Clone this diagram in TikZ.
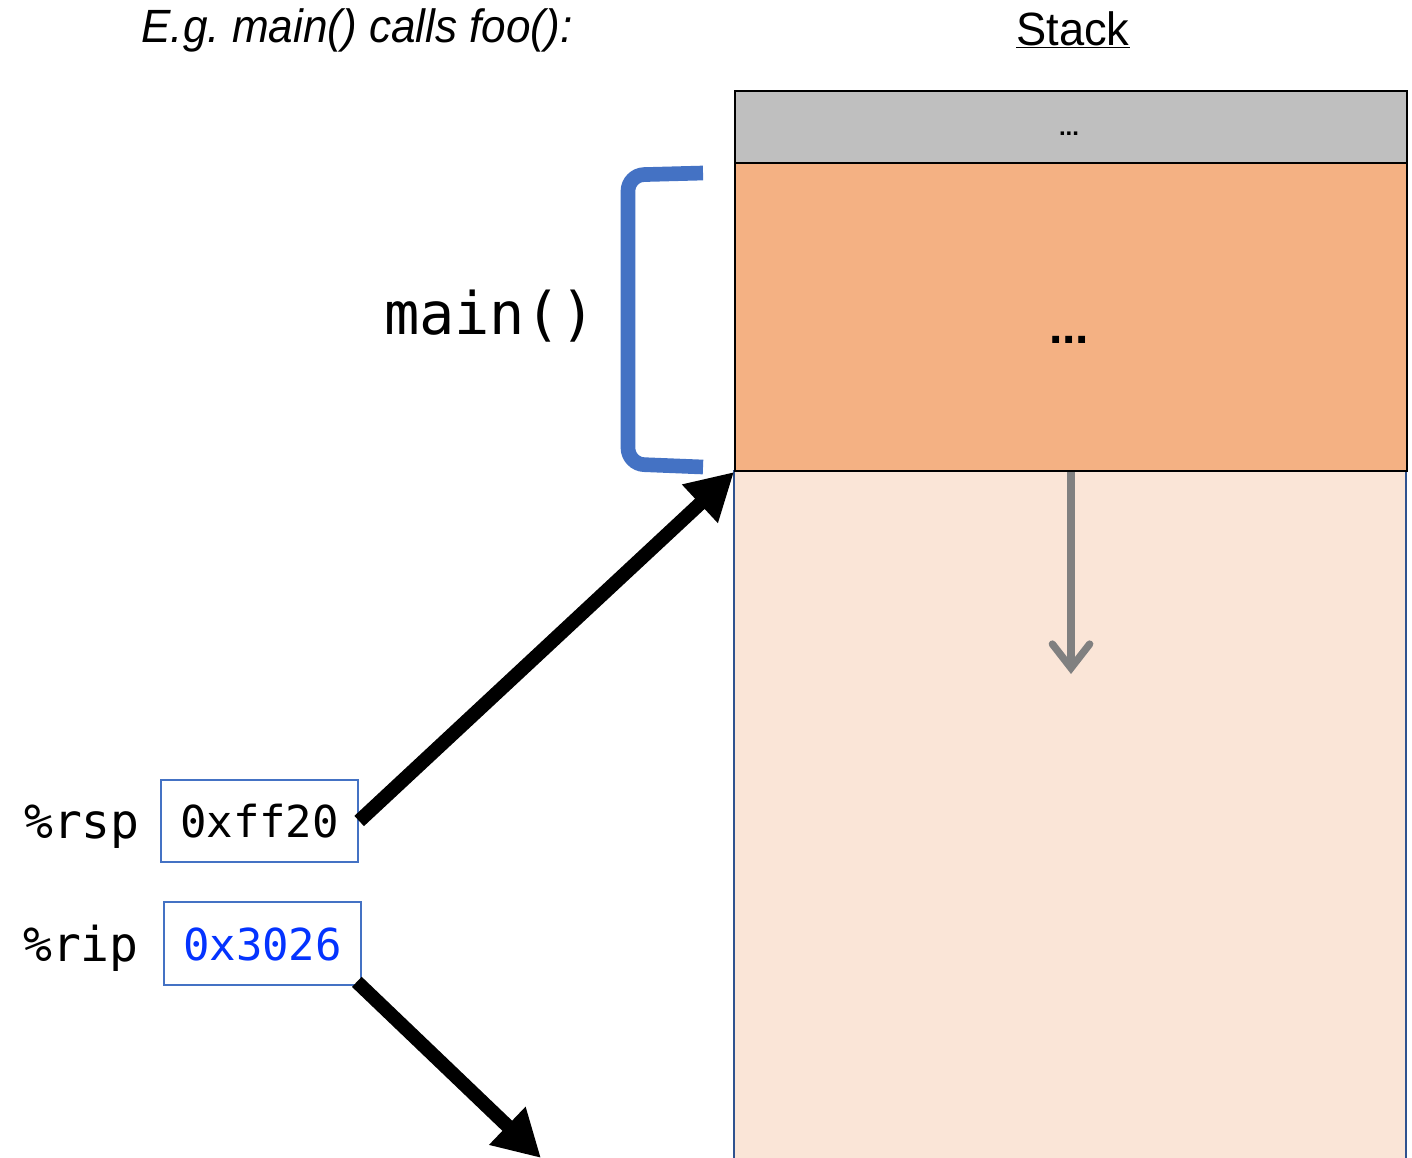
\documentclass[tikz,border=0pt]{standalone}
\usepackage{fontspec}
\setmainfont{Liberation Sans}
\newfontfamily\monof{DejaVu Sans Mono}
\usetikzlibrary{arrows.meta}
\frenchspacing
\definecolor{boxblue}{HTML}{4472C4}
\definecolor{edgeblue}{HTML}{2F528F}
\definecolor{graybox}{HTML}{BFBFBF}
\definecolor{orangebox}{HTML}{F4B183}
\definecolor{peachbox}{HTML}{FAE5D7}
\definecolor{hexblue}{HTML}{0433FF}
\definecolor{arrowgray}{HTML}{808080}
\tikzset{
  cell/.style={draw=black, line width=1.5pt, minimum width=504pt, anchor=north west, inner sep=0pt},
  regbox/.style={draw=boxblue, line width=1.5pt, minimum width=148pt, minimum height=62pt, inner sep=0pt},
  regtext/.style={font=\monof\fontsize{33}{40}\selectfont, inner sep=0pt, anchor=base},
  reglabel/.style={font=\monof\fontsize{36}{40}\selectfont, inner sep=0pt, anchor=base},
  bigarrow/.style={line width=10.5pt, -{Triangle[length=35pt,width=37pt]}},
}
\begin{document}
\begin{tikzpicture}[x=0.75pt,y=-0.75pt]
\useasboundingbox (0,0) rectangle (1412,1157);
\clip (0,0) rectangle (1412,1157);
% titles
\node[font=\itshape\fontsize{35}{40}\selectfont, inner sep=0pt] (title) at (357,30) {\scalebox{0.945}[1]{E.g. main() calls foo():}};
\node[font=\fontsize{35}{40}\selectfont, inner sep=0pt] (stacklbl) at (1073,30) {\scalebox{0.97}[1]{\underline{Stack}}};
% stack
\path[fill=peachbox] (734,470) rectangle (1406,1170);
\draw[edgeblue, line width=1.5pt] (734,470) -- (734,1170) (1406,470) -- (1406,1170);
\node[cell, fill=orangebox, minimum height=231pt] (orange) at (734,162) {};
\node[font=\bfseries\fontsize{36}{36}\selectfont, inner sep=0pt, anchor=base] (odots) at (1069,343) {...};
\node[cell, fill=graybox, minimum height=54pt] (gray) at (734,90) {};
\node[font=\bfseries\fontsize{18}{18}\selectfont, inner sep=0pt, anchor=base] (gdots) at (1069,135) {...};
% bracket
\draw[boxblue, line width=11pt, rounded corners=12pt] (703,173) -- (628,175) -- (628,464) -- (703,467);
\node[font=\monof\fontsize{44}{48}\selectfont, inner sep=0pt] (mainlbl) at (490,316) {main()};
% registers
\node[reglabel] (rsplbl) at (82,838) {\%rsp};
\node[regbox] (rspbox) at (259.5,821) {};
\node[regtext] (rsptext) at (259.5,837) {0xff20};
\node[reglabel] (riplbl) at (81,961) {\%rip};
\node[regbox] (ripbox) at (262.5,943.5) {};
\node[regtext, text=hexblue] (riptext) at (262.5,960) {0x3026};
% arrows
\coordinate (ripend) at (541,1158);
\draw[bigarrow] (rspbox.east) -- (orange.south west);
\draw[bigarrow] ([shift={(-4pt,3pt)}]ripbox.south east) -- (ripend);
\draw[arrowgray, line width=5.5pt, -{Straight Barb[length=18pt,width=28pt,line cap=round]}] (orange.south) -- ++(0,202) coordinate (garrowend);
\end{tikzpicture}
\end{document}
